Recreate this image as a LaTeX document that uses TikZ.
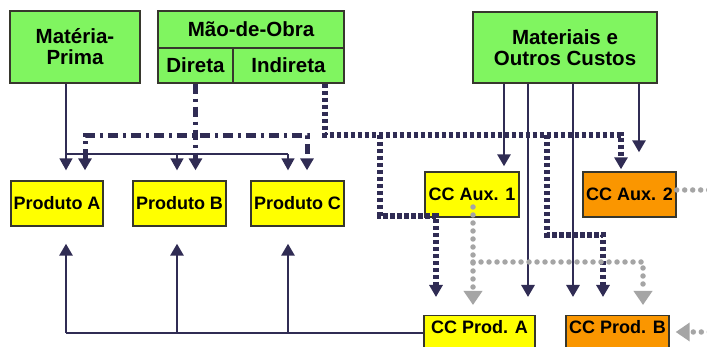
\documentclass[tikz,border=0pt]{standalone}
\usepackage{fontspec}
\setmainfont{Liberation Sans}
\usetikzlibrary{arrows.meta}
\definecolor{boxgreen}{RGB}{128,245,96}
\definecolor{boxyellow}{RGB}{255,255,0}
\definecolor{boxorange}{RGB}{250,150,0}
\definecolor{ink}{RGB}{48,44,84}
\definecolor{grayline}{RGB}{165,165,165}
\definecolor{edge}{RGB}{55,55,45}
\begin{document}
\begin{tikzpicture}[x=1pt,y=-1pt,
  box/.style={draw=edge,line width=1.4pt,inner sep=0pt,align=center,
    font=\fontsize{18}{20}\selectfont\bfseries},
  bigbox/.style={box,fill=boxgreen,font=\fontsize{20.5}{21}\selectfont\bfseries},
  ybox/.style={box,fill=boxyellow,minimum height=45pt},
  obox/.style={box,fill=boxorange,minimum height=45pt},
  lowbox/.style={box,anchor=north,inner ysep=0pt,text height=18pt,text depth=27pt,minimum height=0pt},
  dtip/.style={-{Triangle[width=13pt,length=12pt]}},
  gtip/.style={-{Triangle[width=18pt,length=14pt]}},
  thinl/.style={draw=ink,line width=1.5pt},
  medl/.style={draw=ink,line width=2.8pt},
  dashdotl/.style={draw=ink,line width=5pt,dash pattern=on 10pt off 5pt on 3pt off 5pt},
  sqdot/.style={draw=ink,line width=5.5pt,dash pattern=on 4.5pt off 2.5pt},
  graydot/.style={draw=grayline,line width=5.5pt,line cap=round,dash pattern=on 0pt off 8pt},
]
\useasboundingbox (0,0) rectangle (707,347);
\fill[white] (0,0) rectangle (707,347);

% top boxes
\node[bigbox,minimum width=130pt,minimum height=72pt] (mp) at (75,47) {Matéria-\\Prima};
\node[bigbox,minimum width=186pt,minimum height=37pt] (mob) at (251,29.5) {Mão-de-Obra};
\node[bigbox,minimum width=75pt,minimum height=35pt] (dir) at (195.5,65.5) {Direta};
\node[bigbox,minimum width=111pt,minimum height=35pt] (ind) at (288.5,65.5) {Indireta};
\node[bigbox,minimum width=184pt,minimum height=71pt] (mat) at (565,47.5) {Materiais e\\Outros Custos};

% products
\node[ybox,minimum width=92pt] (pa) at (57,203.5) {Produto A};
\node[ybox,minimum width=93pt] (pb) at (179.5,203.5) {Produto B};
\node[ybox,minimum width=93pt] (pc) at (297.5,203.5) {Produto C};

% cost centres
\node[ybox,minimum width=94pt] (aux1) at (472,194.5) {CC Aux. 1};
\node[obox,minimum width=93pt] (aux2) at (629.5,194.5) {CC Aux. 2};
\node[lowbox,fill=boxyellow,minimum width=111pt] (cpa) at (479.5,315) {CC Prod. A};
\node[lowbox,fill=boxorange,minimum width=103pt] (cpb) at (617.5,315) {CC Prod. B};

% Matéria-Prima distribution
\coordinate (mpA) at (66,154);
\coordinate (mpB) at (177,154);
\coordinate (mpC) at (288,154);
\draw[thinl] (mp.south -| mpA) -- (mpA) -- (mpC);
\draw[thinl,dtip,shorten >=10pt] (mpA) -- (mpA |- pa.north);
\draw[thinl,dtip,shorten >=10pt] (mpB) -- (mpB |- pb.north);
\draw[thinl,dtip,shorten >=10pt] (mpC) -- (mpC |- pc.north);

% Mão-de-obra direta
\coordinate (dA) at (85,136);
\coordinate (dC) at (307,136);
\draw[dashdotl,{Triangle[width=13pt,length=12pt]}-{Triangle[width=13pt,length=12pt]},shorten <=10pt,shorten >=10pt]
  (dA |- pa.north) -- (dA) -- (dC) -- (dC |- pc.north);
\draw[dashdotl,dtip,shorten >=10pt] (dir.south) -- (dir.south |- pb.north);

% Mão-de-obra indireta
\coordinate (i0) at (325,135);
\coordinate (i1) at (380,135);
\coordinate (i1b) at (380,216);
\coordinate (i1c) at (436,216);
\coordinate (i2) at (547,135);
\coordinate (i2b) at (547,235);
\coordinate (i2c) at (603,235);
\coordinate (i3) at (621,135);
\draw[sqdot,dtip,shorten >=2pt] (ind.south -| i0) -- (i0) -- (i3) -- (i3 |- aux2.north);
\draw[sqdot,dtip,shorten >=18pt] (i1) -- (i1b) -- (i1c) -- (i1c |- cpa.north);
\draw[sqdot,dtip,shorten >=18pt] (i2) -- (i2b) -- (i2c) -- (i2c |- cpb.north);

% Materiais e outros custos
\coordinate (m1) at (504,83);
\coordinate (m2) at (528,83);
\coordinate (m3) at (573,83);
\coordinate (m4) at (639,83);
\draw[medl,dtip,shorten >=5pt] (mat.south -| m1) -- (m1 |- aux1.north);
\draw[medl,dtip,shorten >=18pt] (mat.south -| m2) -- (m2 |- cpa.north);
\draw[medl,dtip,shorten >=18pt] (mat.south -| m3) -- (m3 |- cpb.north);
\draw[medl,dtip,shorten >=19pt] (mat.south -| m4) -- (m4 |- aux2.north);

% rateio CC auxiliares (cinza)
\coordinate (g0) at (473,207);
\coordinate (g1) at (473,262);
\coordinate (g2) at (643,262);
\draw[graydot,gtip,shorten >=10pt] (g0) -- (g0 |- cpa.north);
\draw[graydot,gtip,shorten >=10pt] (g1) -- (g2) -- (g2 |- cpb.north);
\coordinate (r1) at (730,190);
\coordinate (r2) at (730,332);
\draw[graydot,gtip,shorten >=6pt] (aux2.east |- r1) -- (r1) -- (r2) -- (r2 -| cpb.east);

% produtos acabados
\coordinate (b0) at (66,333);
\coordinate (b1) at (177,333);
\coordinate (b2) at (288,333);
\draw[thinl] (b0) -- (b0 -| cpa.west);
\draw[medl,dtip,shorten >=17pt] (b0) -- (b0 |- pa.south);
\draw[medl,dtip,shorten >=17pt] (b1) -- (b1 |- pb.south);
\draw[medl,dtip,shorten >=17pt] (b2) -- (b2 |- pc.south);
\end{tikzpicture}
\end{document}
